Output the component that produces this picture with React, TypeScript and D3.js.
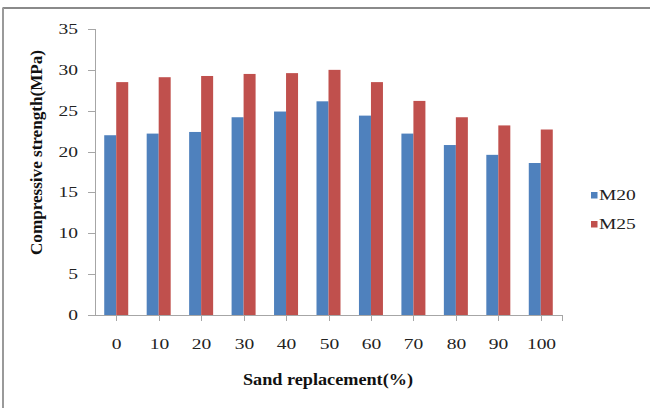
import React from "react";
import * as d3 from "d3";

const categories = ["0", "10", "20", "30", "40", "50", "60", "70", "80", "90", "100"];
const m20 = [22.0, 22.2, 22.4, 24.2, 24.9, 26.15, 24.4, 22.2, 20.8, 19.6, 18.6];
const m25 = [28.5, 29.1, 29.25, 29.5, 29.6, 30.0, 28.5, 26.2, 24.2, 23.2, 22.7];
const seriesNames = ["M20", "M25"];
const seriesColors = ["#4f81bd", "#c0504d"];
const yTicks = [0, 5, 10, 15, 20, 25, 30, 35];

const W = 650;
const H = 408;
const plot = { left: 95, right: 562, top: 29, bottom: 315 };
const font = "'Liberation Serif', 'Times New Roman', serif";
// labels are drawn slightly widened
const stretch = 1.3;

export default function App() {
  const x = d3
    .scaleBand<string>()
    .domain(categories)
    .range([plot.left, plot.right]);
  const y = d3.scaleLinear().domain([0, 35]).range([plot.bottom, plot.top]);
  const barW = 12;
  const series = [m20, m25];
  const axisColor = "#a6a6a6";

  return (
    <svg
      width={W}
      height={H}
      style={{ position: "absolute", left: 0, top: 0, background: "#fff" }}
    >
      {/* frame edges */}
      <line x1={2.5} y1={8} x2={W} y2={8} stroke="#8a8a8a" strokeWidth={2} />
      <line x1={3} y1={8} x2={3} y2={H} stroke="#9a9a9a" strokeWidth={2} />

      {/* bars */}
      {series.map((vals, si) =>
        vals.map((v, i) => {
          const cx = (x(categories[i]) as number) + x.bandwidth() / 2;
          const x0 = cx - barW + si * barW;
          return (
            <rect
              key={`${si}-${i}`}
              x={x0}
              y={y(v)}
              width={barW}
              height={y(0) - y(v)}
              fill={seriesColors[si]}
            />
          );
        })
      )}

      {/* y axis */}
      <line
        x1={plot.left + 0.5}
        y1={plot.top}
        x2={plot.left + 0.5}
        y2={plot.bottom}
        stroke={axisColor}
      />
      {yTicks.map((t) => (
        <g key={t}>
          <line
            x1={plot.left - 7}
            x2={plot.left}
            y1={Math.round(y(t)) + 0.5}
            y2={Math.round(y(t)) + 0.5}
            stroke={axisColor}
          />
          <text
            transform={`translate(78,${y(t)}) scale(${stretch},1)`}
            dy="0.33em"
            textAnchor="end"
            fontFamily={font}
            fontSize={15}
            fill="#222"
          >
            {t}
          </text>
        </g>
      ))}

      {/* x axis */}
      <line
        x1={plot.left}
        y1={plot.bottom + 0.5}
        x2={plot.right}
        y2={plot.bottom + 0.5}
        stroke={axisColor}
      />
      {categories.map((c) => {
        const cx = Math.round((x(c) as number) + x.bandwidth() / 2) + 0.5;
        return (
          <g key={c}>
            <line x1={cx} x2={cx} y1={plot.bottom} y2={plot.bottom + 6} stroke={axisColor} />
            <text
              transform={`translate(${cx},349) scale(${stretch},1)`}
              textAnchor="middle"
              fontFamily={font}
              fontSize={15}
              fill="#222"
            >
              {c}
            </text>
          </g>
        );
      })}
      <line
        x1={plot.right + 0.5}
        x2={plot.right + 0.5}
        y1={plot.bottom}
        y2={plot.bottom + 6}
        stroke={axisColor}
      />

      {/* axis titles */}
      <text
        x={328}
        y={385}
        textAnchor="middle"
        fontFamily={font}
        fontSize={16}
        fontWeight="bold"
        fill="#111"
        textLength={170}
        lengthAdjust="spacingAndGlyphs"
      >
        Sand replacement(%)
      </text>
      <text
        transform="translate(42,152.5) rotate(-90)"
        textAnchor="middle"
        fontFamily={font}
        fontSize={16}
        fontWeight="bold"
        fill="#111"
        textLength={205}
        lengthAdjust="spacingAndGlyphs"
      >
        Compressive strength(MPa)
      </text>

      {/* legend */}
      {seriesNames.map((name, i) => (
        <g key={name} transform={`translate(591, ${192 + i * 29})`}>
          <rect x={0} y={0} width={6.5} height={6.5} fill={seriesColors[i]} />
          <text
            transform={`translate(8,8) scale(${stretch},1)`}
            fontFamily={font}
            fontSize={15}
            fill="#222"
          >
            {name}
          </text>
        </g>
      ))}
    </svg>
  );
}
